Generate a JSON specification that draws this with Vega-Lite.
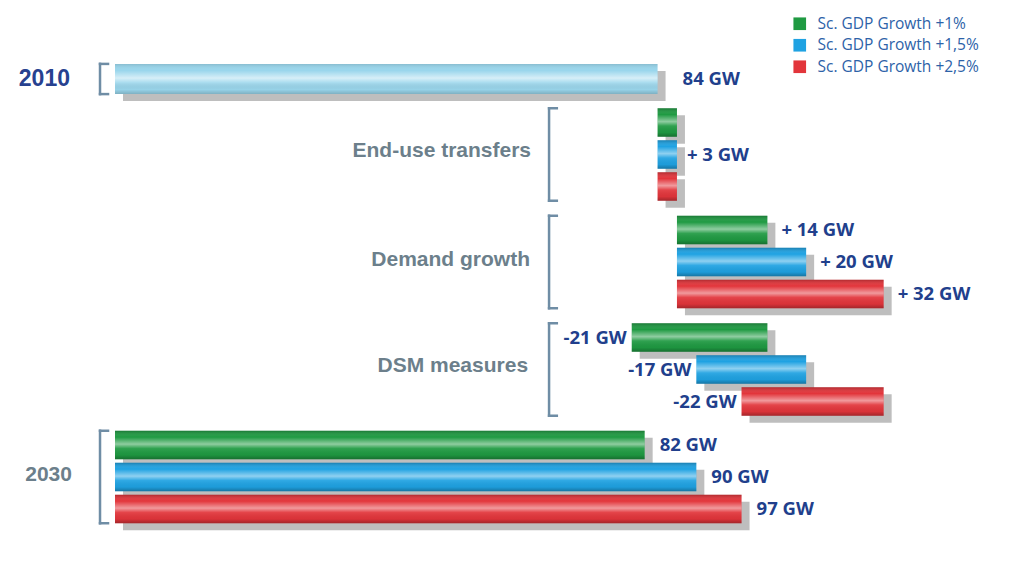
{
  "$schema": "https://vega.github.io/schema/vega-lite/v6.json",
  "background": "white",
  "padding": {"left": 18, "top": 16, "right": 10, "bottom": 10},
  "bounds": "flush",
  "spacing": 11.5,
  "config": {
    "view": {"stroke": null},
    "legend": {
      "orient": "none",
      "legendX": 677,
      "legendY": -47,
      "title": null,
      "padding": 0,
      "symbolType": "square",
      "symbolSize": 160,
      "symbolStrokeWidth": 0,
      "symbolOpacity": 1,
      "labelFont": "Open Sans",
      "labelFontSize": 15.5,
      "labelColor": "#2d62a8",
      "labelOffset": 10,
      "labelLimit": 300,
      "rowPadding": 4.5
    }
  },
  "datasets": {
    "bars": [
      {"g": "y2010", "s": "2010", "from": 0, "to": 84, "label": "84 GW"},
      {"g": "eu", "s": "Sc. GDP Growth +1%", "from": 84, "to": 87, "label": ""},
      {"g": "eu", "s": "Sc. GDP Growth +1,5%", "from": 84, "to": 87, "label": "+ 3 GW"},
      {"g": "eu", "s": "Sc. GDP Growth +2,5%", "from": 84, "to": 87, "label": ""},
      {"g": "dg", "s": "Sc. GDP Growth +1%", "from": 87, "to": 101, "label": "+ 14 GW"},
      {"g": "dg", "s": "Sc. GDP Growth +1,5%", "from": 87, "to": 107, "label": "+ 20 GW"},
      {"g": "dg", "s": "Sc. GDP Growth +2,5%", "from": 87, "to": 119, "label": "+ 32 GW"},
      {"g": "dsm", "s": "Sc. GDP Growth +1%", "from": 101, "to": 80, "label": "-21 GW"},
      {"g": "dsm", "s": "Sc. GDP Growth +1,5%", "from": 107, "to": 90, "label": "-17 GW"},
      {"g": "dsm", "s": "Sc. GDP Growth +2,5%", "from": 119, "to": 97, "label": "-22 GW"},
      {"g": "y2030", "s": "Sc. GDP Growth +1%", "from": 0, "to": 82, "label": "82 GW"},
      {"g": "y2030", "s": "Sc. GDP Growth +1,5%", "from": 0, "to": 90, "label": "90 GW"},
      {"g": "y2030", "s": "Sc. GDP Growth +2,5%", "from": 0, "to": 97, "label": "97 GW"}
    ]
  },
  "resolve": {"scale": {"x": "shared", "y": "independent", "color": "shared"}},
  "vconcat": [
    {
      "width": 872,
      "height": 32,
      "data": {"name": "bars"},
      "transform": [{"filter": "datum.g === 'y2010'"}],
      "encoding": {
        "y": {"field": "s", "type": "nominal", "scale": {"domain": ["2010"], "paddingInner": 0, "paddingOuter": 0.03}, "axis": null}
      },
      "layer": [
        {
          "mark": {"type": "bar", "color": "#7d7d7d", "opacity": 0.5, "xOffset": 8, "x2Offset": 8, "yOffset": 7},
          "encoding": {"x": {"field": "from", "type": "quantitative", "scale": {"domain": [0, 135], "nice": false}, "axis": null}, "x2": {"field": "to"}}
        },
        {
          "mark": {"type": "bar", "color": "#9ad6ec"},
          "encoding": {"x": {"field": "from", "type": "quantitative", "scale": {"domain": [0, 135], "nice": false}, "axis": null}, "x2": {"field": "to"}}
        },
        {
          "mark": {"type": "bar", "fill": {"gradient": "linear", "x1": 0, "y1": 0, "x2": 0, "y2": 1, "stops": [{"offset": 0, "color": "rgba(0,0,0,0.12)"}, {"offset": 0.22, "color": "rgba(255,255,255,0)"}, {"offset": 0.47, "color": "rgba(255,255,255,0.6)"}, {"offset": 0.62, "color": "rgba(255,255,255,0.15)"}, {"offset": 0.85, "color": "rgba(0,0,0,0.02)"}, {"offset": 1, "color": "rgba(0,0,0,0.18)"}]}},
          "encoding": {"x": {"field": "from", "type": "quantitative", "scale": {"domain": [0, 135], "nice": false}, "axis": null}, "x2": {"field": "to"}}
        },
        {
          "mark": {"type": "text", "align": "left", "baseline": "middle", "dx": 25, "font": "Open Sans", "fontSize": 18.5, "fontWeight": "bold", "color": "#213f8c"},
          "encoding": {"x": {"field": "to", "type": "quantitative", "scale": {"domain": [0, 135], "nice": false}, "axis": null}, "text": {"field": "label"}}
        },
        {
          "data": {"values": [{}]},
          "mark": {"type": "text", "text": "2010", "align": "right", "baseline": "middle", "font": "Liberation Sans", "fontSize": 23, "fontWeight": "bold", "color": "#27418f"},
          "encoding": {
            "x": {"datum": -6.97, "type": "quantitative", "scale": {"domain": [0, 135], "nice": false}, "axis": null},
            "y": {"datum": "2010", "type": "nominal", "axis": null}
          }
        },
        {
          "data": {"values": [{}]},
          "mark": {"type": "rule", "color": "#6f8da5", "strokeWidth": 2.5, "strokeCap": "square"},
          "encoding": {
            "x": {"datum": -2.32, "type": "quantitative", "scale": {"domain": [0, 135], "nice": false}, "axis": null},
            "y": {"datum": "2010", "type": "nominal", "bandPosition": 0, "axis": null},
            "y2": {"datum": "2010", "bandPosition": 1}
          }
        },
        {
          "data": {"values": [{}]},
          "mark": {"type": "rule", "color": "#6f8da5", "strokeWidth": 2.5, "strokeCap": "square"},
          "encoding": {
            "x": {"datum": -2.32, "type": "quantitative", "scale": {"domain": [0, 135], "nice": false}, "axis": null},
            "x2": {"datum": -1.08},
            "y": {"datum": "2010", "type": "nominal", "bandPosition": 0, "axis": null}
          }
        },
        {
          "data": {"values": [{}]},
          "mark": {"type": "rule", "color": "#6f8da5", "strokeWidth": 2.5, "strokeCap": "square"},
          "encoding": {
            "x": {"datum": -2.32, "type": "quantitative", "scale": {"domain": [0, 135], "nice": false}, "axis": null},
            "x2": {"datum": -1.08},
            "y": {"datum": "2010", "type": "nominal", "bandPosition": 1, "axis": null}
          }
        }
      ]
    },
    {
      "width": 872,
      "height": 96,
      "data": {"name": "bars"},
      "transform": [{"filter": "datum.g === 'eu'"}],
      "encoding": {
        "y": {"field": "s", "type": "nominal", "scale": {"domain": ["Sc. GDP Growth +1%", "Sc. GDP Growth +1,5%", "Sc. GDP Growth +2,5%"], "paddingInner": 0.11, "paddingOuter": 0.055}, "axis": null}
      },
      "layer": [
        {
          "mark": {"type": "bar", "color": "#7d7d7d", "opacity": 0.5, "xOffset": 8, "x2Offset": 8, "yOffset": 7},
          "encoding": {"x": {"field": "from", "type": "quantitative", "scale": {"domain": [0, 135], "nice": false}, "axis": null}, "x2": {"field": "to"}}
        },
        {
          "mark": {"type": "bar"},
          "encoding": {
            "x": {"field": "from", "type": "quantitative", "scale": {"domain": [0, 135], "nice": false}, "axis": null},
            "x2": {"field": "to"},
            "color": {"field": "s", "type": "nominal", "scale": {"domain": ["Sc. GDP Growth +1%", "Sc. GDP Growth +1,5%", "Sc. GDP Growth +2,5%"], "range": ["#1f9a42", "#1fa2e2", "#e2353b"]}, "legend": {"title": null}}
          }
        },
        {
          "mark": {"type": "bar", "fill": {"gradient": "linear", "x1": 0, "y1": 0, "x2": 0, "y2": 1, "stops": [{"offset": 0, "color": "rgba(0,0,0,0.22)"}, {"offset": 0.22, "color": "rgba(255,255,255,0)"}, {"offset": 0.47, "color": "rgba(255,255,255,0.5)"}, {"offset": 0.62, "color": "rgba(255,255,255,0.08)"}, {"offset": 0.85, "color": "rgba(0,0,0,0.04)"}, {"offset": 1, "color": "rgba(0,0,0,0.28)"}]}},
          "encoding": {"x": {"field": "from", "type": "quantitative", "scale": {"domain": [0, 135], "nice": false}, "axis": null}, "x2": {"field": "to"}}
        },
        {
          "transform": [{"filter": "datum.label !== ''"}],
          "mark": {"type": "text", "align": "left", "baseline": "middle", "dx": 10, "font": "Open Sans", "fontSize": 18.5, "fontWeight": "bold", "color": "#213f8c"},
          "encoding": {"x": {"field": "to", "type": "quantitative", "scale": {"domain": [0, 135], "nice": false}, "axis": null}, "text": {"field": "label"}}
        },
        {
          "data": {"values": [{}]},
          "mark": {"type": "text", "text": "End-use transfers", "align": "right", "baseline": "middle", "dy": -3.5, "font": "Liberation Sans", "fontSize": 21, "fontWeight": "bold", "color": "#6c7f8b"},
          "encoding": {
            "x": {"datum": 64.41, "type": "quantitative", "scale": {"domain": [0, 135], "nice": false}, "axis": null},
            "y": {"datum": "Sc. GDP Growth +1,5%", "type": "nominal", "axis": null}
          }
        },
        {
          "data": {"values": [{}]},
          "mark": {"type": "rule", "color": "#6f8da5", "strokeWidth": 2.5, "strokeCap": "square"},
          "encoding": {
            "x": {"datum": 67.2, "type": "quantitative", "scale": {"domain": [0, 135], "nice": false}, "axis": null},
            "y": {"datum": "Sc. GDP Growth +1%", "type": "nominal", "bandPosition": 0, "axis": null},
            "y2": {"datum": "Sc. GDP Growth +2,5%", "bandPosition": 1}
          }
        },
        {
          "data": {"values": [{}]},
          "mark": {"type": "rule", "color": "#6f8da5", "strokeWidth": 2.5, "strokeCap": "square"},
          "encoding": {
            "x": {"datum": 67.2, "type": "quantitative", "scale": {"domain": [0, 135], "nice": false}, "axis": null},
            "x2": {"datum": 68.4},
            "y": {"datum": "Sc. GDP Growth +1%", "type": "nominal", "bandPosition": 0, "axis": null}
          }
        },
        {
          "data": {"values": [{}]},
          "mark": {"type": "rule", "color": "#6f8da5", "strokeWidth": 2.5, "strokeCap": "square"},
          "encoding": {
            "x": {"datum": 67.2, "type": "quantitative", "scale": {"domain": [0, 135], "nice": false}, "axis": null},
            "x2": {"datum": 68.4},
            "y": {"datum": "Sc. GDP Growth +2,5%", "type": "nominal", "bandPosition": 1, "axis": null}
          }
        }
      ]
    },
    {
      "width": 872,
      "height": 96,
      "data": {"name": "bars"},
      "transform": [{"filter": "datum.g === 'dg'"}],
      "encoding": {
        "y": {"field": "s", "type": "nominal", "scale": {"domain": ["Sc. GDP Growth +1%", "Sc. GDP Growth +1,5%", "Sc. GDP Growth +2,5%"], "paddingInner": 0.11, "paddingOuter": 0.055}, "axis": null}
      },
      "layer": [
        {
          "mark": {"type": "bar", "color": "#7d7d7d", "opacity": 0.5, "xOffset": 8, "x2Offset": 8, "yOffset": 7},
          "encoding": {"x": {"field": "from", "type": "quantitative", "scale": {"domain": [0, 135], "nice": false}, "axis": null}, "x2": {"field": "to"}}
        },
        {
          "mark": {"type": "bar"},
          "encoding": {
            "x": {"field": "from", "type": "quantitative", "scale": {"domain": [0, 135], "nice": false}, "axis": null},
            "x2": {"field": "to"},
            "color": {"field": "s", "type": "nominal", "scale": {"domain": ["Sc. GDP Growth +1%", "Sc. GDP Growth +1,5%", "Sc. GDP Growth +2,5%"], "range": ["#1f9a42", "#1fa2e2", "#e2353b"]}, "legend": {"title": null}}
          }
        },
        {
          "mark": {"type": "bar", "fill": {"gradient": "linear", "x1": 0, "y1": 0, "x2": 0, "y2": 1, "stops": [{"offset": 0, "color": "rgba(0,0,0,0.22)"}, {"offset": 0.22, "color": "rgba(255,255,255,0)"}, {"offset": 0.47, "color": "rgba(255,255,255,0.5)"}, {"offset": 0.62, "color": "rgba(255,255,255,0.08)"}, {"offset": 0.85, "color": "rgba(0,0,0,0.04)"}, {"offset": 1, "color": "rgba(0,0,0,0.28)"}]}},
          "encoding": {"x": {"field": "from", "type": "quantitative", "scale": {"domain": [0, 135], "nice": false}, "axis": null}, "x2": {"field": "to"}}
        },
        {
          "mark": {"type": "text", "align": "left", "baseline": "middle", "dx": 14, "font": "Open Sans", "fontSize": 18.5, "fontWeight": "bold", "color": "#213f8c"},
          "encoding": {"x": {"field": "to", "type": "quantitative", "scale": {"domain": [0, 135], "nice": false}, "axis": null}, "text": {"field": "label"}}
        },
        {
          "data": {"values": [{}]},
          "mark": {"type": "text", "text": "Demand growth", "align": "right", "baseline": "middle", "dy": -2.5, "font": "Liberation Sans", "fontSize": 21, "fontWeight": "bold", "color": "#6c7f8b"},
          "encoding": {
            "x": {"datum": 64.25, "type": "quantitative", "scale": {"domain": [0, 135], "nice": false}, "axis": null},
            "y": {"datum": "Sc. GDP Growth +1,5%", "type": "nominal", "axis": null}
          }
        },
        {
          "data": {"values": [{}]},
          "mark": {"type": "rule", "color": "#6f8da5", "strokeWidth": 2.5, "strokeCap": "square"},
          "encoding": {
            "x": {"datum": 67.2, "type": "quantitative", "scale": {"domain": [0, 135], "nice": false}, "axis": null},
            "y": {"datum": "Sc. GDP Growth +1%", "type": "nominal", "bandPosition": 0, "axis": null},
            "y2": {"datum": "Sc. GDP Growth +2,5%", "bandPosition": 1}
          }
        },
        {
          "data": {"values": [{}]},
          "mark": {"type": "rule", "color": "#6f8da5", "strokeWidth": 2.5, "strokeCap": "square"},
          "encoding": {
            "x": {"datum": 67.2, "type": "quantitative", "scale": {"domain": [0, 135], "nice": false}, "axis": null},
            "x2": {"datum": 68.4},
            "y": {"datum": "Sc. GDP Growth +1%", "type": "nominal", "bandPosition": 0, "axis": null}
          }
        },
        {
          "data": {"values": [{}]},
          "mark": {"type": "rule", "color": "#6f8da5", "strokeWidth": 2.5, "strokeCap": "square"},
          "encoding": {
            "x": {"datum": 67.2, "type": "quantitative", "scale": {"domain": [0, 135], "nice": false}, "axis": null},
            "x2": {"datum": 68.4},
            "y": {"datum": "Sc. GDP Growth +2,5%", "type": "nominal", "bandPosition": 1, "axis": null}
          }
        }
      ]
    },
    {
      "width": 872,
      "height": 96,
      "data": {"name": "bars"},
      "transform": [{"filter": "datum.g === 'dsm'"}],
      "encoding": {
        "y": {"field": "s", "type": "nominal", "scale": {"domain": ["Sc. GDP Growth +1%", "Sc. GDP Growth +1,5%", "Sc. GDP Growth +2,5%"], "paddingInner": 0.11, "paddingOuter": 0.055}, "axis": null}
      },
      "layer": [
        {
          "mark": {"type": "bar", "color": "#7d7d7d", "opacity": 0.5, "xOffset": 8, "x2Offset": 8, "yOffset": 7},
          "encoding": {"x": {"field": "from", "type": "quantitative", "scale": {"domain": [0, 135], "nice": false}, "axis": null}, "x2": {"field": "to"}}
        },
        {
          "mark": {"type": "bar"},
          "encoding": {
            "x": {"field": "from", "type": "quantitative", "scale": {"domain": [0, 135], "nice": false}, "axis": null},
            "x2": {"field": "to"},
            "color": {"field": "s", "type": "nominal", "scale": {"domain": ["Sc. GDP Growth +1%", "Sc. GDP Growth +1,5%", "Sc. GDP Growth +2,5%"], "range": ["#1f9a42", "#1fa2e2", "#e2353b"]}, "legend": {"title": null}}
          }
        },
        {
          "mark": {"type": "bar", "fill": {"gradient": "linear", "x1": 0, "y1": 0, "x2": 0, "y2": 1, "stops": [{"offset": 0, "color": "rgba(0,0,0,0.22)"}, {"offset": 0.22, "color": "rgba(255,255,255,0)"}, {"offset": 0.47, "color": "rgba(255,255,255,0.5)"}, {"offset": 0.62, "color": "rgba(255,255,255,0.08)"}, {"offset": 0.85, "color": "rgba(0,0,0,0.04)"}, {"offset": 1, "color": "rgba(0,0,0,0.28)"}]}},
          "encoding": {"x": {"field": "from", "type": "quantitative", "scale": {"domain": [0, 135], "nice": false}, "axis": null}, "x2": {"field": "to"}}
        },
        {
          "mark": {"type": "text", "align": "right", "baseline": "middle", "dx": -5, "font": "Open Sans", "fontSize": 18.5, "fontWeight": "bold", "color": "#213f8c"},
          "encoding": {"x": {"field": "to", "type": "quantitative", "scale": {"domain": [0, 135], "nice": false}, "axis": null}, "text": {"field": "label"}}
        },
        {
          "data": {"values": [{}]},
          "mark": {"type": "text", "text": "DSM measures", "align": "right", "baseline": "middle", "dy": -3.5, "font": "Liberation Sans", "fontSize": 21, "fontWeight": "bold", "color": "#6c7f8b"},
          "encoding": {
            "x": {"datum": 63.95, "type": "quantitative", "scale": {"domain": [0, 135], "nice": false}, "axis": null},
            "y": {"datum": "Sc. GDP Growth +1,5%", "type": "nominal", "axis": null}
          }
        },
        {
          "data": {"values": [{}]},
          "mark": {"type": "rule", "color": "#6f8da5", "strokeWidth": 2.5, "strokeCap": "square"},
          "encoding": {
            "x": {"datum": 67.2, "type": "quantitative", "scale": {"domain": [0, 135], "nice": false}, "axis": null},
            "y": {"datum": "Sc. GDP Growth +1%", "type": "nominal", "bandPosition": 0, "axis": null},
            "y2": {"datum": "Sc. GDP Growth +2,5%", "bandPosition": 1}
          }
        },
        {
          "data": {"values": [{}]},
          "mark": {"type": "rule", "color": "#6f8da5", "strokeWidth": 2.5, "strokeCap": "square"},
          "encoding": {
            "x": {"datum": 67.2, "type": "quantitative", "scale": {"domain": [0, 135], "nice": false}, "axis": null},
            "x2": {"datum": 68.4},
            "y": {"datum": "Sc. GDP Growth +1%", "type": "nominal", "bandPosition": 0, "axis": null}
          }
        },
        {
          "data": {"values": [{}]},
          "mark": {"type": "rule", "color": "#6f8da5", "strokeWidth": 2.5, "strokeCap": "square"},
          "encoding": {
            "x": {"datum": 67.2, "type": "quantitative", "scale": {"domain": [0, 135], "nice": false}, "axis": null},
            "x2": {"datum": 68.4},
            "y": {"datum": "Sc. GDP Growth +2,5%", "type": "nominal", "bandPosition": 1, "axis": null}
          }
        }
      ]
    },
    {
      "width": 872,
      "height": 96,
      "data": {"name": "bars"},
      "transform": [{"filter": "datum.g === 'y2030'"}],
      "encoding": {
        "y": {"field": "s", "type": "nominal", "scale": {"domain": ["Sc. GDP Growth +1%", "Sc. GDP Growth +1,5%", "Sc. GDP Growth +2,5%"], "paddingInner": 0.11, "paddingOuter": 0.055}, "axis": null}
      },
      "layer": [
        {
          "mark": {"type": "bar", "color": "#7d7d7d", "opacity": 0.5, "xOffset": 8, "x2Offset": 8, "yOffset": 7},
          "encoding": {"x": {"field": "from", "type": "quantitative", "scale": {"domain": [0, 135], "nice": false}, "axis": null}, "x2": {"field": "to"}}
        },
        {
          "mark": {"type": "bar"},
          "encoding": {
            "x": {"field": "from", "type": "quantitative", "scale": {"domain": [0, 135], "nice": false}, "axis": null},
            "x2": {"field": "to"},
            "color": {"field": "s", "type": "nominal", "scale": {"domain": ["Sc. GDP Growth +1%", "Sc. GDP Growth +1,5%", "Sc. GDP Growth +2,5%"], "range": ["#1f9a42", "#1fa2e2", "#e2353b"]}, "legend": {"title": null}}
          }
        },
        {
          "mark": {"type": "bar", "fill": {"gradient": "linear", "x1": 0, "y1": 0, "x2": 0, "y2": 1, "stops": [{"offset": 0, "color": "rgba(0,0,0,0.22)"}, {"offset": 0.22, "color": "rgba(255,255,255,0)"}, {"offset": 0.47, "color": "rgba(255,255,255,0.5)"}, {"offset": 0.62, "color": "rgba(255,255,255,0.08)"}, {"offset": 0.85, "color": "rgba(0,0,0,0.04)"}, {"offset": 1, "color": "rgba(0,0,0,0.28)"}]}},
          "encoding": {"x": {"field": "from", "type": "quantitative", "scale": {"domain": [0, 135], "nice": false}, "axis": null}, "x2": {"field": "to"}}
        },
        {
          "mark": {"type": "text", "align": "left", "baseline": "middle", "dx": 15, "font": "Open Sans", "fontSize": 18.5, "fontWeight": "bold", "color": "#213f8c"},
          "encoding": {"x": {"field": "to", "type": "quantitative", "scale": {"domain": [0, 135], "nice": false}, "axis": null}, "text": {"field": "label"}}
        },
        {
          "data": {"values": [{}]},
          "mark": {"type": "text", "text": "2030", "align": "right", "baseline": "middle", "dy": -2, "font": "Liberation Sans", "fontSize": 21, "fontWeight": "bold", "color": "#6c7f8b"},
          "encoding": {
            "x": {"datum": -6.66, "type": "quantitative", "scale": {"domain": [0, 135], "nice": false}, "axis": null},
            "y": {"datum": "Sc. GDP Growth +1,5%", "type": "nominal", "axis": null}
          }
        },
        {
          "data": {"values": [{}]},
          "mark": {"type": "rule", "color": "#6f8da5", "strokeWidth": 2.5, "strokeCap": "square"},
          "encoding": {
            "x": {"datum": -2.32, "type": "quantitative", "scale": {"domain": [0, 135], "nice": false}, "axis": null},
            "y": {"datum": "Sc. GDP Growth +1%", "type": "nominal", "bandPosition": 0, "axis": null},
            "y2": {"datum": "Sc. GDP Growth +2,5%", "bandPosition": 1}
          }
        },
        {
          "data": {"values": [{}]},
          "mark": {"type": "rule", "color": "#6f8da5", "strokeWidth": 2.5, "strokeCap": "square"},
          "encoding": {
            "x": {"datum": -2.32, "type": "quantitative", "scale": {"domain": [0, 135], "nice": false}, "axis": null},
            "x2": {"datum": -1.08},
            "y": {"datum": "Sc. GDP Growth +1%", "type": "nominal", "bandPosition": 0, "axis": null}
          }
        },
        {
          "data": {"values": [{}]},
          "mark": {"type": "rule", "color": "#6f8da5", "strokeWidth": 2.5, "strokeCap": "square"},
          "encoding": {
            "x": {"datum": -2.32, "type": "quantitative", "scale": {"domain": [0, 135], "nice": false}, "axis": null},
            "x2": {"datum": -1.08},
            "y": {"datum": "Sc. GDP Growth +2,5%", "type": "nominal", "bandPosition": 1, "axis": null}
          }
        }
      ]
    }
  ]
}
